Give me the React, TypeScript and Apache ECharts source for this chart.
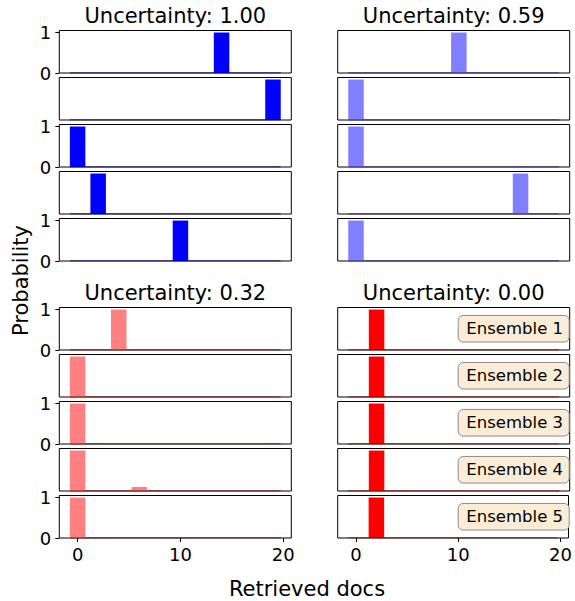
import React, { useEffect, useRef } from "react";
import * as echarts from "echarts";

// Retrieved doc indices (x positions of the bars)
const docs = [0, 1, 2, 3, 4, 5, 6, 7, 8, 9, 10, 11, 12, 13, 14, 15, 16, 17, 18, 19];

const titles = ["Uncertainty: 1.00", "Uncertainty: 0.59", "Uncertainty: 0.32", "Uncertainty: 0.00"];
const ensembleLabels = ["Ensemble 1", "Ensemble 2", "Ensemble 3", "Ensemble 4", "Ensemble 5"];
const xTicks = [0, 10, 20];
const yTicks = [0, 1];

// Probability per retrieved doc, one row per ensemble member
const probsU100 = [
  [0, 0, 0, 0, 0, 0, 0, 0, 0, 0, 0, 0, 0, 0, 1, 0, 0, 0, 0, 0],
  [0, 0, 0, 0, 0, 0, 0, 0, 0, 0, 0, 0, 0, 0, 0, 0, 0, 0, 0, 1],
  [1, 0, 0, 0, 0, 0, 0, 0, 0, 0, 0, 0, 0, 0, 0, 0, 0, 0, 0, 0],
  [0, 0, 1, 0, 0, 0, 0, 0, 0, 0, 0, 0, 0, 0, 0, 0, 0, 0, 0, 0],
  [0, 0, 0, 0, 0, 0, 0, 0, 0, 0, 1, 0, 0, 0, 0, 0, 0, 0, 0, 0],
];
const probsU059 = [
  [0, 0, 0, 0, 0, 0, 0, 0, 0, 0, 1, 0, 0, 0, 0, 0, 0, 0, 0, 0],
  [1, 0, 0, 0, 0, 0, 0, 0, 0, 0, 0, 0, 0, 0, 0, 0, 0, 0, 0, 0],
  [1, 0, 0, 0, 0, 0, 0, 0, 0, 0, 0, 0, 0, 0, 0, 0, 0, 0, 0, 0],
  [0, 0, 0, 0, 0, 0, 0, 0, 0, 0, 0, 0, 0, 0, 0, 0, 1, 0, 0, 0],
  [1, 0, 0, 0, 0, 0, 0, 0, 0, 0, 0, 0, 0, 0, 0, 0, 0, 0, 0, 0],
];
const probsU032 = [
  [0, 0, 0, 0, 1, 0, 0, 0, 0, 0, 0, 0, 0, 0, 0, 0, 0, 0, 0, 0],
  [1, 0, 0, 0, 0, 0, 0, 0, 0, 0, 0, 0, 0, 0, 0, 0, 0, 0, 0, 0],
  [1, 0, 0, 0, 0, 0, 0, 0, 0, 0, 0, 0, 0, 0, 0, 0, 0, 0, 0, 0],
  [0.91, 0, 0, 0, 0, 0, 0.09, 0, 0, 0, 0, 0, 0, 0, 0, 0, 0, 0, 0, 0],
  [1, 0, 0, 0, 0, 0, 0, 0, 0, 0, 0, 0, 0, 0, 0, 0, 0, 0, 0, 0],
];
const probsU000 = [
  [0, 0, 1, 0, 0, 0, 0, 0, 0, 0, 0, 0, 0, 0, 0, 0, 0, 0, 0, 0],
  [0, 0, 1, 0, 0, 0, 0, 0, 0, 0, 0, 0, 0, 0, 0, 0, 0, 0, 0, 0],
  [0, 0, 1, 0, 0, 0, 0, 0, 0, 0, 0, 0, 0, 0, 0, 0, 0, 0, 0, 0],
  [0, 0, 1, 0, 0, 0, 0, 0, 0, 0, 0, 0, 0, 0, 0, 0, 0, 0, 0, 0],
  [0, 0, 1, 0, 0, 0, 0, 0, 0, 0, 0, 0, 0, 0, 0, 0, 0, 0, 0, 0],
];

const panels = [probsU100, probsU059, probsU032, probsU000];
const barColors = ["#0000ff", "#8080ff", "#ff8080", "#ff0000"];
const edgeColors = ["#00006e", "#1c1c70", "#7a0000", "#7a0000"];

const FONT = "DejaVu Sans";

export default function App() {
  const ref = useRef<HTMLDivElement>(null);

  useEffect(() => {
    if (!ref.current) return;
    const chart = echarts.init(ref.current, null, { renderer: "svg" });

    const colLeft = [59.3, 337.7];
    const panelW = 232;
    const rowTop = [30.5, 307.5];
    const step = 47;
    const subH = 42.5;
    const halfW = 0.75;

    const grid: any[] = [];
    const xAxis: any[] = [];
    const yAxis: any[] = [];
    const series: any[] = [];
    const graphic: any[] = [];

    panels.forEach((rows, p) => {
      const col = p % 2;
      const row = Math.floor(p / 2);
      const left = colLeft[col];
      graphic.push({
        type: "text",
        x: left + panelW / 2,
        y: rowTop[row] - 14.5,
        style: {
          text: titles[p],
          fontSize: 21,
          fontFamily: FONT,
          fill: "#000",
          textAlign: "center",
          textVerticalAlign: "middle",
        },
      });
      rows.forEach((probs, s) => {
        const g = grid.length;
        const top = rowTop[row] + s * step;
        grid.push({
          left,
          top,
          width: panelW,
          height: subH,
          show: true,
          borderColor: "#000",
          borderWidth: 1,
          backgroundColor: "#fff",
        });
        const showX = row === 1 && s === 4;
        const showY = col === 0 && s % 2 === 0;
        xAxis.push({
          gridIndex: g,
          type: "value",
          min: -1.78,
          max: 20.78,
          axisLine: { show: false, onZero: false },
          splitLine: { show: false },
          axisTick: {
            show: showX,
            inside: false,
            customValues: xTicks,
            length: 4,
            lineStyle: { color: "#000", width: 1 },
          },
          axisLabel: {
            show: showX,
            customValues: xTicks,
            fontSize: 18,
            fontFamily: FONT,
            color: "#000",
            margin: 7,
          },
        });
        yAxis.push({
          gridIndex: g,
          type: "value",
          min: 0,
          max: (v: any) => v.max * 1.05,
          axisLine: { show: false, onZero: false },
          splitLine: { show: false },
          axisTick: {
            show: showY,
            inside: false,
            customValues: yTicks,
            length: 4,
            lineStyle: { color: "#000", width: 1 },
          },
          axisLabel: {
            show: showY,
            customValues: yTicks,
            fontSize: 18,
            fontFamily: FONT,
            color: "#000",
            margin: 8,
          },
        });
        series.push({
          type: "bar",
          xAxisIndex: g,
          yAxisIndex: g,
          barWidth: 15.5,
          itemStyle: { color: barColors[p] },
          data: docs.map((d, i) => [d, probs[i]]),
          silent: true,
        });
        series.push({
          type: "line",
          xAxisIndex: g,
          yAxisIndex: g,
          symbol: "none",
          lineStyle: { color: edgeColors[p], width: 1 },
          data: [
            [docs[0] - halfW, 0],
            [docs[docs.length - 1] + halfW, 0],
          ],
          silent: true,
          z: 3,
        });
        if (p === 3) {
          const bw = 111;
          const bh = 26.6;
          const cx = left + panelW - bw / 2 - 0.5;
          const cy = top + subH / 2;
          graphic.push({
            type: "rect",
            shape: { x: cx - bw / 2, y: cy - bh / 2, width: bw, height: bh, r: 5 },
            style: { fill: "#fbecd6", stroke: "#8c8c8c", lineWidth: 1 },
            z: 10,
          });
          graphic.push({
            type: "text",
            x: cx + 1,
            y: cy,
            style: {
              text: ensembleLabels[s],
              fontSize: 16.5,
              fontFamily: FONT,
              fill: "#000",
              textAlign: "center",
              textVerticalAlign: "middle",
            },
            z: 11,
          });
        }
      });
    });

    graphic.push({
      type: "text",
      x: 21,
      y: 280.5,
      rotation: Math.PI / 2,
      style: {
        text: "Probability",
        fontSize: 21,
        fontFamily: FONT,
        fill: "#000",
        textAlign: "center",
        textVerticalAlign: "middle",
      },
    });
    graphic.push({
      type: "text",
      x: 307,
      y: 589,
      style: {
        text: "Retrieved docs",
        fontSize: 21,
        fontFamily: FONT,
        fill: "#000",
        textAlign: "center",
        textVerticalAlign: "middle",
      },
    });

    chart.setOption({
      animation: false,
      backgroundColor: "#fff",
      grid,
      xAxis,
      yAxis,
      series,
      graphic,
    });

    return () => chart.dispose();
  }, []);

  return (
    <div
      ref={ref}
      style={{ position: "fixed", left: 0, top: 0, width: 575, height: 601 }}
    />
  );
}
